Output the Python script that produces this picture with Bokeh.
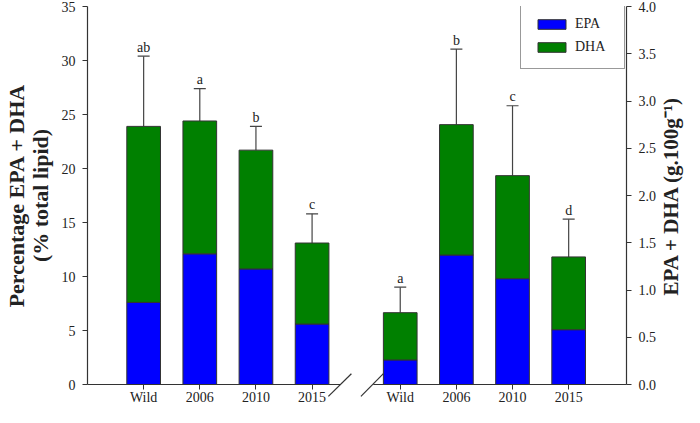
import math
from bokeh.plotting import figure
from bokeh.models import (Range1d, LinearAxis, FixedTicker, SingleIntervalTicker,
                          NumeralTickFormatter, Whisker, TeeHead, Legend, LegendItem,
                          ColumnDataSource)
from bokeh.core.properties import value
from bokeh.embed import file_html
from bokeh.resources import INLINE

# ---------------- data ----------------
groups = ["Wild", "2006", "2010", "2015"]
# percentage of total lipid (left axis)
pct_epa = [7.6, 12.1, 10.7, 5.6]
pct_dha = [16.3, 12.3, 11.0, 7.5]
pct_err = [6.5, 3.0, 2.2, 2.7]
pct_letters = ["ab", "a", "b", "c"]
# g.100g-1 (right axis)
abs_epa = [0.26, 1.37, 1.12, 0.58]
abs_dha = [0.50, 1.38, 1.09, 0.77]
abs_err = [0.27, 0.80, 0.74, 0.40]
abs_letters = ["a", "b", "c", "d"]

# ---------------- layout constants ----------------
left_x = [100, 200, 300, 400]
right_x = [557, 657, 757, 857]
X_END = 960
Y_END = 35
BAR_W = 60
AXIS_COL = "#333333"
TEXT_COL = "#222222"
FONT = "Liberation Serif"
W, H = 684, 407
B_LEFT, B_RIGHT, B_TOP = 80, 58, 6

p = figure(width=W, height=H, x_range=Range1d(0, X_END), y_range=Range1d(0, Y_END),
           output_backend="svg", toolbar_location=None,
           min_border_left=B_LEFT, min_border_right=B_RIGHT, min_border_top=B_TOP,
           min_border_bottom=0)
p.extra_y_ranges = {"right": Range1d(0, 4)}
p.outline_line_color = None
p.xgrid.visible = False
p.ygrid.visible = False

def make_source(xs, epa, dha, err, letters):
    total = [e + d for e, d in zip(epa, dha)]
    return ColumnDataSource(dict(x=xs, epa=epa, total=total,
                                 top_err=[t + e for t, e in zip(total, err)],
                                 letter=letters))

src_l = make_source(left_x, pct_epa, pct_dha, pct_err, pct_letters)
src_r = make_source(right_x, abs_epa, abs_dha, abs_err, abs_letters)

renderers = {}
for src, rng in ((src_l, "default"), (src_r, "right")):
    r_epa = p.vbar(x="x", bottom=0, top="epa", width=BAR_W, fill_color="#0000FF",
                   line_color=AXIS_COL, line_width=1, source=src, y_range_name=rng)
    r_dha = p.vbar(x="x", bottom="epa", top="total", width=BAR_W, fill_color="#008000",
                   line_color=AXIS_COL, line_width=1, source=src, y_range_name=rng)
    if rng == "default":
        renderers["EPA"] = r_epa
        renderers["DHA"] = r_dha
    p.add_layout(Whisker(source=src, base="x", lower="total", upper="top_err",
                         dimension="height", line_color="#444444", line_width=1.2,
                         upper_head=TeeHead(size=12, line_color="#444444", line_width=1.2),
                         lower_head=None, y_range_name=rng))
    p.text(x="x", y="top_err", text="letter", source=src, y_range_name=rng,
           text_align="center", text_baseline="alphabetic", y_offset=-9,
           text_font=value(FONT), text_font_size="14px", text_color=TEXT_COL)

# broken x axis line and break marks
seg_x0 = [0, 509]
seg_x1 = [450, X_END]
p.segment(x0=seg_x0, y0=[0, 0], x1=seg_x1, y1=[0, 0], line_color=AXIS_COL,
          line_width=1.2, level="overlay")
brk_x0 = [429, 487]
brk_x1 = [470, 527]
p.segment(x0=brk_x0, y0=[-1.1, -1.1], x1=brk_x1, y1=[1.0, 1.0], line_color=AXIS_COL,
          line_width=1.2, level="overlay")

# x axis
xa = p.xaxis[0]
xa.ticker = FixedTicker(ticks=left_x + right_x)
xa.major_label_overrides = {x: g for x, g in zip(left_x + right_x, groups + groups)}
xa.axis_line_color = None
xa.major_tick_out = 5
xa.major_tick_in = 0
xa.major_tick_line_color = AXIS_COL
xa.minor_tick_line_color = None
xa.major_label_standoff = 0
xa.major_label_text_font = FONT
xa.major_label_text_font_size = "14px"
xa.major_label_text_color = TEXT_COL

# left axis
ya = p.yaxis[0]
ya.ticker = SingleIntervalTicker(interval=5, num_minor_ticks=0)
ya.axis_label = "Percentage EPA + DHA\n(% total lipid)"

# right axis
ra = LinearAxis(y_range_name="right",
                ticker=SingleIntervalTicker(interval=0.5, num_minor_ticks=0),
                formatter=NumeralTickFormatter(format="0.0"))
p.add_layout(ra, "right")

for ax in (ya, ra):
    ax.axis_line_color = AXIS_COL
    ax.axis_line_width = 1.2
    ax.major_tick_out = 5
    ax.major_tick_in = 0
    ax.major_tick_line_color = AXIS_COL
    ax.minor_tick_line_color = None
    ax.major_label_standoff = 7
    ax.major_label_text_font = FONT
    ax.major_label_text_font_size = "14px"
    ax.major_label_text_color = TEXT_COL
ya.axis_label_text_font = FONT
ya.axis_label_text_font_style = "bold"
ya.axis_label_text_font_size = "22px"
ya.axis_label_text_color = TEXT_COL
ya.axis_label_standoff = 6
ya.axis_label_text_line_height = 0.95

# right axis title, reading bottom to top (unclipped overlay text beside the right axis)
p.text(x=[X_END], y=[Y_END / 2], text=["EPA + DHA (g.100g\u207b\u00b9)"],
       angle=math.pi / 2, x_offset=44, text_align="center", text_baseline="middle",
       text_font=value(FONT), text_font_style="bold", text_font_size="21px",
       text_color=TEXT_COL, level="overlay")

legend = Legend(items=[LegendItem(label="EPA", renderers=[renderers["EPA"]]),
                       LegendItem(label="DHA", renderers=[renderers["DHA"]])],
                location=(433, 315), orientation="vertical",
                border_line_color=AXIS_COL, border_line_width=1,
                background_fill_color="white", background_fill_alpha=1.0,
                padding=13, spacing=7, glyph_width=35, glyph_height=12,
                label_height=12, label_width=36, label_standoff=6, margin=0,
                label_text_font=FONT, label_text_font_size="14px",
                label_text_color=TEXT_COL)
p.add_layout(legend)

open("out.html", "w").write(file_html(p, INLINE))
